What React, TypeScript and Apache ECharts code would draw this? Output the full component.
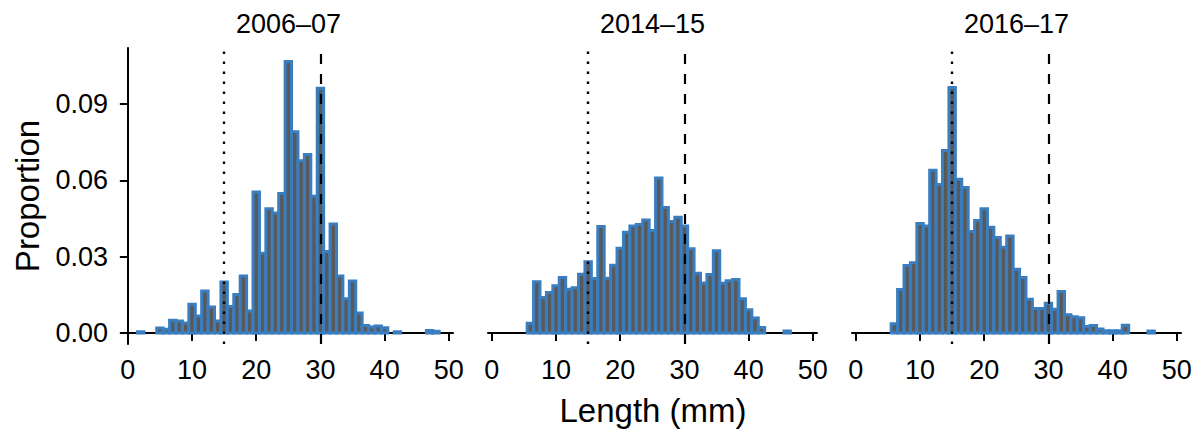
import React, { useEffect, useRef } from "react";
import * as echarts from "echarts";

// Length bins (mm), bin width 1 centred on integers
const lengthBins: number[] = Array.from({ length: 51 }, (_, i) => i);

const panelTitles = ["2006–07", "2014–15", "2016–17"];

// proportions per bin, index = length (mm)
const prop200607 = [
  0, 0, 0.0005, 0, 0, 0.002, 0.0015, 0.005, 0.0047, 0.004,
  0.0113, 0.0067, 0.0165, 0.0102, 0.0047, 0.0201, 0.0104, 0.0151, 0.0224, 0.0087,
  0.0554, 0.0314, 0.0488, 0.0472, 0.0548, 0.1067, 0.0791, 0.0677, 0.0702, 0.0538,
  0.0962, 0.032, 0.0428, 0.0224, 0.0135, 0.0205, 0.0079, 0.003, 0.0024, 0.0028,
  0.0021, 0, 0.0005, 0, 0, 0, 0, 0.001, 0.0007, 0, 0,
];
const prop201415 = [
  0, 0, 0, 0, 0, 0, 0.0039, 0.0202, 0.014, 0.0159,
  0.0186, 0.0218, 0.0172, 0.0178, 0.0231, 0.028, 0.0214, 0.0419, 0.0215, 0.0266,
  0.0333, 0.0396, 0.0421, 0.0427, 0.0444, 0.0403, 0.0609, 0.0493, 0.0438, 0.0455,
  0.0421, 0.0331, 0.0235, 0.0197, 0.023, 0.0323, 0.0196, 0.0206, 0.021, 0.0135,
  0.0092, 0.0059, 0.0022, 0, 0, 0, 0.0008, 0, 0, 0, 0,
];
const prop201617 = [
  0, 0, 0, 0, 0, 0, 0.0037, 0.0171, 0.0265, 0.0276,
  0.043, 0.0421, 0.064, 0.0584, 0.0717, 0.0965, 0.0604, 0.0572, 0.0399, 0.0442,
  0.0488, 0.0416, 0.0375, 0.0337, 0.0381, 0.0251, 0.0218, 0.0133, 0.0096, 0.0096,
  0.0117, 0.0094, 0.0163, 0.0072, 0.0064, 0.006, 0.0026, 0.003, 0.0016, 0.0009,
  0.0009, 0.0009, 0.0031, 0, 0, 0, 0.0008, 0, 0, 0, 0,
];
const panelProps = [prop200607, prop201415, prop201617];

const xTicks = [0, 10, 20, 30, 40, 50];
const yTicks = [0, 0.03, 0.06, 0.09];
const refLengths = { dotted: 15, dashed: 30 };

const FONT = "'Liberation Sans', Arial, Helvetica, sans-serif";
const BAR_FILL = "#595959";
const BAR_STROKE = "#3b7ec0";

export default function App() {
  const ref = useRef<HTMLDivElement>(null);
  useEffect(() => {
    document.body.style.margin = "0";
    if (!ref.current) return;
    const chart = echarts.init(ref.current, null, { renderer: "svg" });
    const lefts = [124, 488, 852];
    const gridW = 329;
    const top = 48;
    const height = 296;

    const grids = lefts.map((l) => ({ left: l, top, width: gridW, height, containLabel: false }));
    const xAxes = lefts.map((_, i) => ({
      type: "value",
      gridIndex: i,
      min: -0.6,
      max: 50.65,
      splitLine: { show: false },
      axisLine: { show: true, lineStyle: { color: "#000", width: 2 } },
      axisTick: { show: true, length: 8, customValues: xTicks, lineStyle: { color: "#000", width: 2 } },
      axisLabel: {
        customValues: xTicks,
        color: "#000",
        fontSize: 27,
        fontFamily: FONT,
        margin: 12,
      },
    }));
    const yAxes = lefts.map((_, i) => ({
      type: "value",
      gridIndex: i,
      min: -0.0043,
      max: 0.112,
      show: i === 0,
      splitLine: { show: false },
      axisLine: { show: i === 0, lineStyle: { color: "#000", width: 2 } },
      axisTick: { show: i === 0, length: 8, customValues: yTicks, lineStyle: { color: "#000", width: 2 } },
      axisLabel: {
        show: i === 0,
        customValues: yTicks,
        formatter: (v: number) => v.toFixed(2),
        color: "#000",
        fontSize: 27,
        fontFamily: FONT,
        margin: 16,
      },
    }));

    const series: any[] = [];
    panelProps.forEach((props, i) => {
      const data = lengthBins
        .map((len, k) => [len, props[k]])
        .filter((d) => d[1] > 0);
      series.push({
        type: "custom",
        xAxisIndex: i,
        yAxisIndex: i,
        data,
        z: 2,
        renderItem: (params: any, api: any) => {
          const x = api.value(0);
          const y = api.value(1);
          const p0 = api.coord([x - 0.5, 0]);
          const p1 = api.coord([x + 0.5, y]);
          return {
            type: "rect",
            shape: { x: p0[0], y: p1[1], width: p1[0] - p0[0], height: p0[1] - p1[1] },
            style: { fill: BAR_FILL, stroke: BAR_STROKE, lineWidth: 3 },
          };
        },
      });
      series.push({
        type: "line",
        xAxisIndex: i,
        yAxisIndex: i,
        data: [],
        z: 5,
        markLine: {
          silent: true,
          symbol: "none",
          label: { show: false },
          data: [
            { xAxis: refLengths.dotted, lineStyle: { color: "#000", width: 2.4, type: [2.4, 7.6] } },
            { xAxis: refLengths.dashed, lineStyle: { color: "#000", width: 2.2, type: [10, 10] } },
          ],
        },
      });
    });

    const graphic: any[] = panelTitles.map((t, i) => ({
      type: "text",
      x: lefts[i] + gridW / 2,
      y: 24,
      style: {
        text: t,
        fill: "#000",
        font: `27px ${FONT}`,
        textAlign: "center",
        textVerticalAlign: "middle",
      },
    }));
    graphic.push({
      type: "text",
      x: 653,
      y: 410,
      style: { text: "Length (mm)", fill: "#000", font: `33px ${FONT}`, textAlign: "center", textVerticalAlign: "middle" },
    });
    graphic.push({
      type: "text",
      x: 27,
      y: 196,
      rotation: Math.PI / 2,
      style: { text: "Proportion", fill: "#000", font: `33px ${FONT}`, textAlign: "center", textVerticalAlign: "middle" },
    });

    chart.setOption({
      animation: false,
      backgroundColor: "#fff",
      grid: grids,
      xAxis: xAxes,
      yAxis: yAxes,
      series,
      graphic,
    });
    return () => chart.dispose();
  }, []);
  return <div ref={ref} style={{ width: 1201, height: 430 }} />;
}
